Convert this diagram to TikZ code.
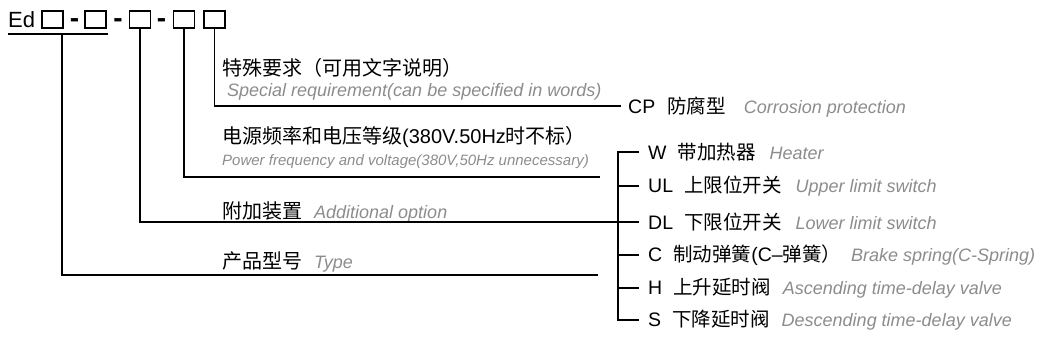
\documentclass[tikz,border=0pt]{standalone}
\usepackage{fontspec}
\setmainfont{Liberation Sans}
\newfontfamily\zhfont{Noto Sans CJK SC}
\newcommand\zh[1]{{\zhfont #1}}
\newcommand\gr[1]{{\color{black!45}\fontsize{18}{20}\selectfont\itshape #1}}

\tikzstyle{codebox}=[draw, line width=1.3pt, minimum width=21pt, minimum height=17pt, inner sep=0pt]
\tikzstyle{dashmark}=[anchor=base, inner sep=0pt, font=\fontsize{28}{30}\selectfont\bfseries]
\tikzstyle{cn}=[anchor=west, inner sep=0pt, font=\fontsize{19.5}{22}\selectfont]
\tikzstyle{en}=[anchor=west, inner sep=0pt, text=black!45, font=\fontsize{18}{20}\selectfont\itshape]
\tikzstyle{wire}=[line width=1.2pt]

\begin{document}
\begin{tikzpicture}[x=1pt,y=-1pt]
        \useasboundingbox (0,0) rectangle (1051,353);
        % model code
        \draw (8,27.5) node[anchor=base west, inner sep=0pt, font=\fontsize{22}{24}\selectfont](ed){Ed};
        \draw (52.5,19.5) node[codebox](b1){};
        \draw (74.5,28)   node[dashmark](d1){-};
        \draw (95.5,19.5) node[codebox](b2){};
        \draw (118,28)    node[dashmark](d2){-};
        \draw (140,19.5)  node[codebox](b3){};
        \draw (161.5,28)  node[dashmark](d3){-};
        \draw (184,19.5)  node[codebox](b4){};
        \draw (214.5,19.5) node[codebox](b5){};
        \coordinate (u0) at (8,34);
        \coordinate (u1) at (108,34);
        \coordinate (t0) at (62,34);
        %
        % left labels
        \draw (222,68)  node[cn, font=\fontsize{20}{22}\selectfont](sp1){\zh{特殊要求（可用文字说明）}};
        \draw (227,92)  node[en](sp2){Special requirement(can be specified in words)};
        \draw (222,137) node[cn, font=\fontsize{20}{22}\selectfont](pw1){\zh{电源频率和电压等级}(380V.50Hz\zh{时不标）}};
        \draw (222,162) node[en, font=\fontsize{15}{17}\selectfont\itshape](pw2){Power frequency and voltage(380V,50Hz unnecessary)};
        \draw (222,212) node[cn, font=\fontsize{20}{22}\selectfont](ad){\zh{附加装置}\hspace{12pt}\gr{Additional option}};
        \draw (222,262) node[cn, font=\fontsize{20}{22}\selectfont](ty){\zh{产品型号}\hspace{12pt}\gr{Type}};
        %
        % right labels
        \draw (628,107) node[cn](cp){CP\hspace{12pt}\zh{防腐型}\hspace{18pt}\gr{Corrosion protection}};
        \draw (648,152) node[cn](iW){W\hspace{11pt}\zh{带加热器}\hspace{14pt}\gr{Heater}};
        \draw (648,186) node[cn](iUL){UL\hspace{11pt}\zh{上限位开关}\hspace{14pt}\gr{Upper limit switch}};
        \draw (648,222) node[cn](iDL){DL\hspace{11pt}\zh{下限位开关}\hspace{14pt}\gr{Lower limit switch}};
        \draw (648,255) node[cn](iC){C\hspace{11pt}\zh{制动弹簧}(C--\zh{弹簧）}\hspace{10pt}\gr{Brake spring(C-Spring)}};
        \draw (648,288) node[cn](iH){H\hspace{11pt}\zh{上升延时阀}\hspace{12pt}\gr{Ascending time-delay valve}};
        \draw (648,320) node[cn](iS){S\hspace{11pt}\zh{下降延时阀}\hspace{12pt}\gr{Descending time-delay valve}};
        \coordinate (kUL) at (618,186);
        \coordinate (kDL) at (618,222);
        \coordinate (kC)  at (618,255);
        \coordinate (kH)  at (618,288);
        \coordinate (kS)  at (618,320);
        \coordinate (tyend) at (598,275);
        \coordinate (pwend) at (600,177);
        \coordinate (spend) at (621,106);
        %
        \draw[wire] (u0) -- (u1);
        \draw[wire] (t0) |- (tyend);
        \draw[wire] (b3.south) |- (kDL);
        \draw[wire] (b4.south) |- (pwend);
        \draw[wire] (b5.south) |- (spend);
        \draw[wire] (iW.west) ++(-9,0) -| (kS) -- ++(21,0);
        \path[wire, every edge/.style={draw, wire, shorten >=9pt}]
            (kUL)   edge    (iUL)
            (kDL)   edge    (iDL)
            (kC)    edge    (iC)
            (kH)    edge    (iH)
        ;
\end{tikzpicture}
\end{document}
